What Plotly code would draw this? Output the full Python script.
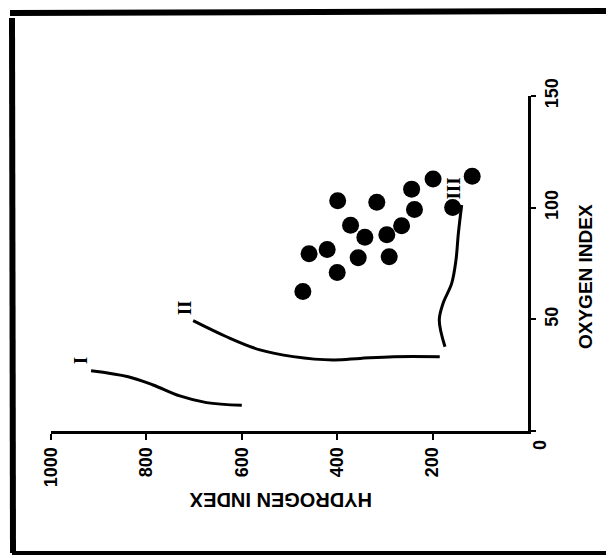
import plotly.graph_objects as go

# ---- data (Hydrogen index, Oxygen index) ----
sample_hi = [399, 317, 244, 199, 117, 238, 158, 372, 342, 296, 265, 459, 421, 356, 291, 400, 472]
sample_oi = [103.1, 102.4, 108.3, 112.8, 114.1, 99.2, 100.1, 92.1, 86.8, 87.9, 91.9, 79.4, 81.3, 77.6, 78.0, 71.0, 62.5]

type1_hi = [916, 838, 786, 730, 674, 600]
type1_oi = [27.0, 24.3, 20.6, 15.7, 12.7, 11.5]

type2_hi = [702, 632, 562, 492, 408, 352, 282, 185]
type2_oi = [49.4, 42.2, 36.3, 33.3, 31.8, 32.5, 33.3, 33.3]

type3_hi = [174, 186, 178, 160, 151, 146, 139]
type3_oi = [37.7, 49.7, 57.2, 66.1, 76.5, 88.5, 101.2]

type_labels = ["I", "II", "III"]
type_label_hi = [938, 720, 157]
type_label_oi = [31.5, 55.2, 108.6]

hi_ticks = [1000, 800, 600, 400, 200]
oi_ticks = [0, 50, 100, 150]
oi_ticktext = ["", "50", "100", "150"]

OFF = 8  # page offset of the figure inside the window

fig = go.Figure()
for hx, oy in [(type1_hi, type1_oi), (type2_hi, type2_oi), (type3_hi, type3_oi)]:
    fig.add_trace(go.Scatter(x=hx, y=oy, mode="lines",
                             line=dict(color="black", width=3, shape="spline"),
                             showlegend=False, hoverinfo="skip"))
fig.add_trace(go.Scatter(x=sample_hi, y=sample_oi, mode="markers",
                         marker=dict(color="black", size=17, line=dict(width=0)),
                         showlegend=False))

tickfont = dict(family="Liberation Sans", size=18, color="black", weight="bold")

W, H = 606, 550
L, R, T, B = 51, 528, 96, 431  # plot area in window pixels

fig.update_layout(
    width=W, height=H,
    margin=dict(l=L - OFF, r=W - (R - OFF), t=T - OFF, b=H - (B - OFF)),
    paper_bgcolor="white", plot_bgcolor="white",
    xaxis=dict(range=[1000, 0], tickvals=hi_ticks, ticks="outside", ticklen=6,
               tickwidth=2, tickcolor="black", tickangle=-90, tickfont=tickfont,
               showline=True, linewidth=3, linecolor="black",
               showgrid=False, zeroline=False),
    yaxis=dict(range=[0, 150], side="right", tickvals=oi_ticks, ticktext=oi_ticktext,
               ticks="outside", ticklen=5, tickwidth=2, tickcolor="black",
               tickangle=-90, tickfont=tickfont,
               showline=True, linewidth=3, linecolor="black",
               showgrid=False, zeroline=False),
)

def px_x(p):
    return (p - L) / float(R - L)

def px_y(p):
    return (B - p) / float(B - T)

annots = [
    dict(text="HYDROGEN INDEX", x=px_x(281), y=px_y(500), textangle=180,
         font=dict(family="Liberation Sans", size=20, color="black", weight="bold")),
    dict(text="OXYGEN INDEX", x=px_x(585), y=px_y(277), textangle=-90,
         font=dict(family="Liberation Sans", size=19, color="black", weight="bold")),
    dict(text="0", x=px_x(540), y=px_y(445), textangle=-90, font=tickfont),
]
for a in annots:
    a.update(xref="paper", yref="paper", showarrow=False, xanchor="center", yanchor="middle")
    fig.add_annotation(**a)

for t, hx, oy in zip(type_labels, type_label_hi, type_label_oi):
    fig.add_annotation(text=t, x=hx, y=oy, xref="x", yref="y", showarrow=False,
                       textangle=-90,
                       font=dict(family="Liberation Serif", size=19, color="black", weight="bold"))

# frame around the figure
frame = [
    (12, 18, 13, 553, 6, "black"),
    (10, 13, 614, 11, 6, "black"),
    (12, 553, 614, 553, 4, "black"),
    (610, 14, 610, 552, 1, "#bbbbbb"),
]
for x0, y0, x1, y1, w, c in frame:
    fig.add_shape(type="line", xref="paper", yref="paper",
                  x0=px_x(x0), y0=px_y(y0), x1=px_x(x1), y1=px_y(y1),
                  line=dict(color=c, width=w))

fig.write_html("out.html")
